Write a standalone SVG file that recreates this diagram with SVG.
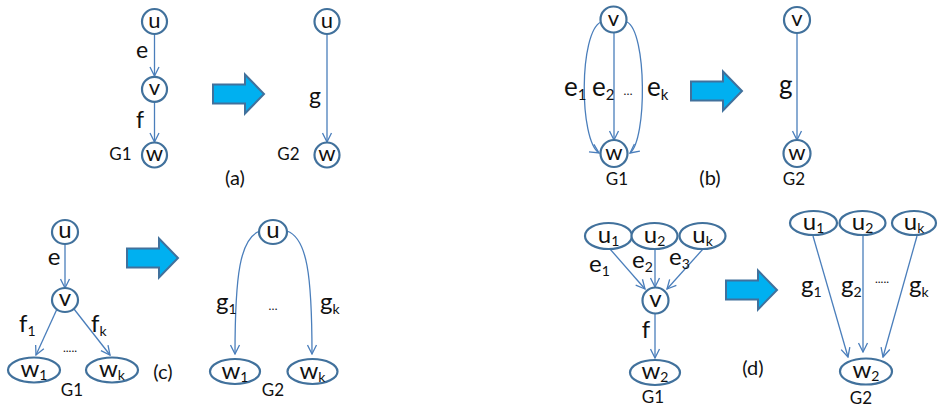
<svg xmlns="http://www.w3.org/2000/svg" width="938" height="412" viewBox="0 0 938 412">
<style>
.node{fill:#fff;stroke:#41719C;stroke-width:2.2}
.edge{fill:none;stroke:#4A7EBB;stroke-width:1.3;marker-end:url(#ah)}
.big{fill:#00B0F0;stroke:#41719C;stroke-width:2;stroke-linejoin:miter}
text{font-family:Lato,"Liberation Sans",sans-serif;fill:#111}
.nl{text-anchor:middle}
.pa .nl{font-size:22px}
.pa .el{font-size:23px;text-anchor:middle}
.pb .nl{font-size:22px}
.pb .el{font-size:26px}
.pc .nl,.pc .el,.pd .nl,.pd .el{font-size:24px}
.sub{font-size:14px}
.pb .sub{font-size:15px}
.g{font-size:17px;text-anchor:middle}
.cap{font-size:20px;text-anchor:middle}
.dots{font-size:12px;text-anchor:middle}
</style>
<defs>
<marker id="ah" markerUnits="userSpaceOnUse" viewBox="-1 -1 11 11" refX="9" refY="4.5" markerWidth="11" markerHeight="11" orient="auto">
<path d="M0,0 L9,4.5 L0,9" fill="none" stroke="#4A7EBB" stroke-width="1.3"/>
</marker>
<path id="bigArrow" class="big" d="M0,-9.5 H32 V-19.5 L51,0 L32,19.5 V9.5 H0 Z"/>
</defs>

<g id="connectors">
<line class="edge" x1="154.5" y1="34" x2="154.5" y2="76"/>
<line class="edge" x1="154.5" y1="102" x2="154.5" y2="142"/>
<line class="edge" x1="327" y1="34" x2="327" y2="142"/>
<line class="edge" x1="614" y1="33" x2="614" y2="140"/>
<path class="edge" d="M601,22 C579,32 579,140 599,153"/>
<path class="edge" d="M627,22 C647,32 647,140 630,153"/>
<line class="edge" x1="797" y1="33" x2="797" y2="140"/>
<line class="edge" x1="65" y1="244" x2="65" y2="288"/>
<line class="edge" x1="57" y1="309" x2="36" y2="355"/>
<line class="edge" x1="74" y1="309" x2="110" y2="355"/>
<path class="edge" d="M260,231 C240,238 235,275 235,354"/>
<path class="edge" d="M287,231 C307,238 312,275 312,354"/>
<line class="edge" x1="610" y1="249" x2="645" y2="289"/>
<line class="edge" x1="655" y1="249" x2="655" y2="287"/>
<line class="edge" x1="703" y1="249" x2="667" y2="289"/>
<line class="edge" x1="655" y1="313" x2="655" y2="358"/>
<line class="edge" x1="813" y1="236" x2="848" y2="357"/>
<line class="edge" x1="863" y1="236" x2="863" y2="352"/>
<line class="edge" x1="917" y1="236" x2="883" y2="357"/>
</g>

<g id="block-arrows">
<use href="#bigArrow" x="213" y="94"/>
<use href="#bigArrow" x="691" y="91"/>
<use href="#bigArrow" x="127" y="258"/>
<use href="#bigArrow" x="726" y="290"/>
</g>

<g class="pa">
<g id="a-G1-u"><circle class="node" cx="154.5" cy="21.5" r="12.5"/><text class="nl" x="154.5" y="27.5">u</text></g>
<g id="a-G1-v"><circle class="node" cx="154.5" cy="89.3" r="12.5"/><text class="nl" x="154.5" y="95">v</text></g>
<g id="a-G1-w"><circle class="node" cx="154.5" cy="155" r="12.5"/><text class="nl" x="154.5" y="161">w</text></g>
<g id="a-G2-u"><circle class="node" cx="327" cy="21.5" r="12.5"/><text class="nl" x="327" y="27.5">u</text></g>
<g id="a-G2-w"><circle class="node" cx="327" cy="155" r="12.5"/><text class="nl" x="327" y="161">w</text></g>
<g id="a-labels">
<text class="el" x="142" y="58">e</text>
<text class="el" x="140" y="128">f</text>
<text class="el" x="315" y="104">g</text>
<text class="g" x="120.5" y="160">G1</text>
<text class="g" x="288.5" y="160">G2</text>
<text class="cap" x="235" y="185">(a)</text>
</g>
</g>

<g class="pb">
<g id="b-G1-v"><circle class="node" cx="613.5" cy="19.5" r="13"/><text class="nl" x="613.5" y="25.5">v</text></g>
<g id="b-G1-w"><circle class="node" cx="614" cy="153.5" r="13.5"/><text class="nl" x="614" y="159.5">w</text></g>
<g id="b-G2-v"><circle class="node" cx="797" cy="20" r="13"/><text class="nl" x="797" y="26">v</text></g>
<g id="b-G2-w"><circle class="node" cx="797" cy="153.5" r="13.5"/><text class="nl" x="797" y="159.5">w</text></g>
<g id="b-labels">
<text class="el" x="564" y="96">e<tspan class="sub" dy="4">1</tspan></text>
<text class="el" x="592" y="96">e<tspan class="sub" dy="4">2</tspan></text>
<text class="dots" x="628" y="95">…</text>
<text class="el" x="647" y="96">e<tspan class="sub" dy="4">k</tspan></text>
<text class="el" x="779" y="94">g</text>
<text class="g" x="617" y="185">G1</text>
<text class="cap" x="710" y="185">(b)</text>
<text class="g" x="794" y="185">G2</text>
</g>
</g>

<g class="pc">
<g id="c-G1-u"><ellipse class="node" cx="65" cy="232" rx="13" ry="12"/><text class="nl" x="65" y="238">u</text></g>
<g id="c-G1-v"><ellipse class="node" cx="65" cy="300" rx="13" ry="12"/><text class="nl" x="65" y="306">v</text></g>
<g id="c-G1-w1"><ellipse class="node" cx="34" cy="370" rx="26" ry="12.5"/><text class="nl" x="34" y="377">w<tspan class="sub" dy="3">1</tspan></text></g>
<g id="c-G1-wk"><ellipse class="node" cx="112" cy="370" rx="26" ry="12.5"/><text class="nl" x="112" y="377">w<tspan class="sub" dy="3">k</tspan></text></g>
<g id="c-G2-u"><ellipse class="node" cx="273" cy="232" rx="14" ry="12"/><text class="nl" x="273" y="238">u</text></g>
<g id="c-G2-w1"><ellipse class="node" cx="235" cy="371.5" rx="25" ry="12.5"/><text class="nl" x="235" y="378.5">w<tspan class="sub" dy="3">1</tspan></text></g>
<g id="c-G2-wk"><ellipse class="node" cx="312.5" cy="371.5" rx="25" ry="12.5"/><text class="nl" x="312.5" y="378.5">w<tspan class="sub" dy="3">k</tspan></text></g>
<g id="c-labels">
<text class="nl" x="54" y="265">e</text>
<text class="el" x="19" y="332">f<tspan class="sub" dy="4">1</tspan></text>
<text class="el" x="91" y="332">f<tspan class="sub" dy="4">k</tspan></text>
<text class="dots" x="70" y="352">.....</text>
<text class="cap" x="163" y="379">(c)</text>
<text class="g" x="72" y="396">G1</text>
<text class="el" x="216" y="310">g<tspan class="sub" dy="4">1</tspan></text>
<text class="dots" x="273" y="310">…</text>
<text class="el" x="320" y="310">g<tspan class="sub" dy="4">k</tspan></text>
<text class="g" x="273" y="396">G2</text>
</g>
</g>

<g class="pd">
<g id="d-G1-u1"><ellipse class="node" cx="608.5" cy="236" rx="23.5" ry="13"/><text class="nl" x="608.5" y="242.5">u<tspan class="sub" dy="3">1</tspan></text></g>
<g id="d-G1-u2"><ellipse class="node" cx="654.5" cy="236" rx="23" ry="13"/><text class="nl" x="654.5" y="242.5">u<tspan class="sub" dy="3">2</tspan></text></g>
<g id="d-G1-uk"><ellipse class="node" cx="702.5" cy="236" rx="23" ry="13"/><text class="nl" x="702.5" y="242.5">u<tspan class="sub" dy="3">k</tspan></text></g>
<g id="d-G1-v"><circle class="node" cx="655.5" cy="300.5" r="13"/><text class="nl" x="655.5" y="307">v</text></g>
<g id="d-G1-w2"><ellipse class="node" cx="655" cy="372.5" rx="25" ry="12.5"/><text class="nl" x="655" y="379">w<tspan class="sub" dy="3">2</tspan></text></g>
<g id="d-G2-u1"><ellipse class="node" cx="813.5" cy="223" rx="23.5" ry="12"/><text class="nl" x="813.5" y="229.5">u<tspan class="sub" dy="3">1</tspan></text></g>
<g id="d-G2-u2"><ellipse class="node" cx="862.5" cy="223" rx="23" ry="12"/><text class="nl" x="862.5" y="229.5">u<tspan class="sub" dy="3">2</tspan></text></g>
<g id="d-G2-uk"><ellipse class="node" cx="914" cy="223" rx="22" ry="12"/><text class="nl" x="914" y="229.5">u<tspan class="sub" dy="3">k</tspan></text></g>
<g id="d-G2-w2"><ellipse class="node" cx="866" cy="371.5" rx="26" ry="13"/><text class="nl" x="866" y="378">w<tspan class="sub" dy="3">2</tspan></text></g>
<g id="d-labels">
<text class="el" x="589" y="272">e<tspan class="sub" dy="4">1</tspan></text>
<text class="el" x="632" y="268">e<tspan class="sub" dy="4">2</tspan></text>
<text class="el" x="669" y="265">e<tspan class="sub" dy="4">3</tspan></text>
<text class="nl" x="646" y="338">f</text>
<text class="g" x="653" y="403">G1</text>
<text class="cap" x="753" y="375">(d)</text>
<text class="el" x="801" y="293">g<tspan class="sub" dy="4">1</tspan></text>
<text class="el" x="841" y="293">g<tspan class="sub" dy="4">2</tspan></text>
<text class="dots" x="882" y="283">.....</text>
<text class="el" x="909" y="293">g<tspan class="sub" dy="4">k</tspan></text>
<text class="g" x="861" y="404">G2</text>
</g>
</g>
</svg>
